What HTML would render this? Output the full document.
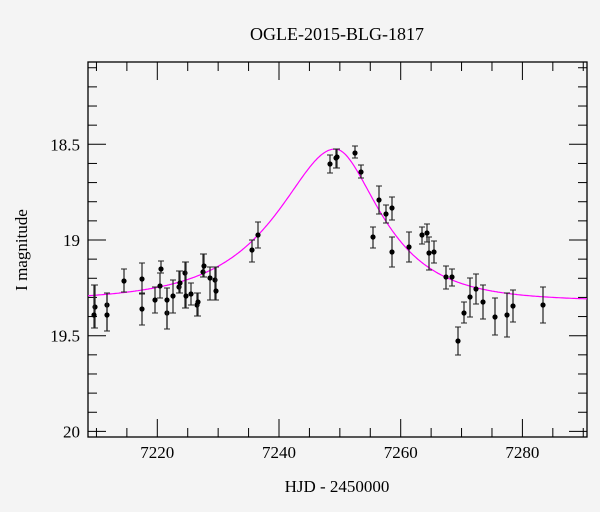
<!DOCTYPE html>
<html><head><meta charset="utf-8"><style>
html,body{margin:0;padding:0;background:#f4f4f4;}
svg{display:block;font-family:"Liberation Serif",serif;}
</style></head><body>
<svg id="s" width="600" height="512" xmlns="http://www.w3.org/2000/svg">
<rect width="600" height="512" fill="#f4f4f4"/>
<text x="337" y="40" font-size="18" text-anchor="middle">OGLE-2015-BLG-1817</text>
<text x="337" y="492" font-size="17" text-anchor="middle">HJD - 2450000</text>
<text transform="translate(27,250) rotate(-90)" font-size="17" text-anchor="middle">I magnitude</text>
<g id="g"></g>
</svg>
<script>
var g=document.getElementById('g'),h='';
var L=88,R=587,T=62,B=437;
function X(t){return 157.3+(t-7220)*6.085;}
function Y(m){return 144.3+(m-18.5)*191.4;}
h+='<rect x="'+L+'" y="'+T+'" width="'+(R-L)+'" height="'+(B-T)+'" fill="none" stroke="#000" stroke-width="1.3"/>';
for(var t=7210;t<=7290;t+=5){var x=X(t);if(x<L||x>R)continue;var l=(t%20==0)?18:9;
 h+='<line x1="'+x+'" y1="'+B+'" x2="'+x+'" y2="'+(B-l)+'" stroke="#000"/><line x1="'+x+'" y1="'+T+'" x2="'+x+'" y2="'+(T+l)+'" stroke="#000"/>';
 if(t%20==0)h+='<text x="'+x+'" y="'+(B+21)+'" font-size="17" text-anchor="middle">'+t+'</text>';}
for(var i=0;i<=20;i++){var m=18.1+i*0.1;var y=Y(m);if(y<T-1||y>B)continue;var maj=(i%5==4);var l=maj?18:9;
 h+='<line x1="'+L+'" y1="'+y+'" x2="'+(L+l)+'" y2="'+y+'" stroke="#000"/><line x1="'+R+'" y1="'+y+'" x2="'+(R-l)+'" y2="'+y+'" stroke="#000"/>';
 if(maj){var lab=(Math.round(m*10)/10);lab=(lab%1==0)?lab.toFixed(0):lab.toFixed(1);h+='<text x="'+(L-8)+'" y="'+(y+6)+'" font-size="17" text-anchor="end">'+lab+'</text>';}}
var d='',t0=7249.2,u0=0.53,base=19.32;
for(var px=L;px<=R;px++){var t=7220+(px-157.3)/6.085;var tE=t<t0?15.9:12.5;var tau=(t-t0)/tE;var u=Math.sqrt(u0*u0+tau*tau);var A=(u*u+2)/(u*Math.sqrt(u*u+4));var m=base-2.5*Math.log10(A);d+=(px==L?'M':'L')+px+' '+Y(m).toFixed(1);}
h+='<path d="'+d+'" fill="none" stroke="#ff00ff" stroke-width="1.2"/>';
var P=[[95,307,285,328],[94,315,285,328],[107,305,293,331],[107,315,293,331],[124,281,269,292],[142,279,263,293],[142,309,294,325],[155,300,287,313],[161,269,261,273],[160,286,273,298],[167,313,288,329],[167,300,288,329],[173,296,280,313],[179,287,271,293],[180,283,271,293],[185,273,262,308],[186,296,262,308],[191,294,283,305],[197,305,293,316],[198,302,293,316],[203,272,254,277],[204,266,254,277],[210,278,267,300],[215,280,267,300],[216,291,267,300],[252,250,240,262],[258,235,222,248],[330,164,155,173],[336,158,149,168],[337,157,149,168],[355,153,146,158],[361,172,165,178],[379,200,186,214],[386,214,205,223],[392,208,197,220],[373,237,227,248],[392,252,237,267],[409,247,232,262],[422,235,227,244],[427,233,224,242],[429,253,237,270],[434,252,241,263],[446,277,266,289],[452,277,269,286],[458,341,327,355],[464,313,302,323],[470,297,278,317],[476,289,274,304],[483,302,285,319],[495,317,298,335],[507,315,293,337],[513,306,290,322],[543,305,287,323]];
P.forEach(function(p){h+='<line x1="'+p[0]+'" y1="'+p[2]+'" x2="'+p[0]+'" y2="'+p[3]+'" stroke="#222" stroke-width="1.2"/><line x1="'+(p[0]-3)+'" y1="'+p[2]+'" x2="'+(p[0]+3)+'" y2="'+p[2]+'" stroke="#222"/><line x1="'+(p[0]-3)+'" y1="'+p[3]+'" x2="'+(p[0]+3)+'" y2="'+p[3]+'" stroke="#222"/><circle cx="'+p[0]+'" cy="'+p[1]+'" r="2.6" fill="#000"/>';});
g.innerHTML=h;
</script>
</body></html>
